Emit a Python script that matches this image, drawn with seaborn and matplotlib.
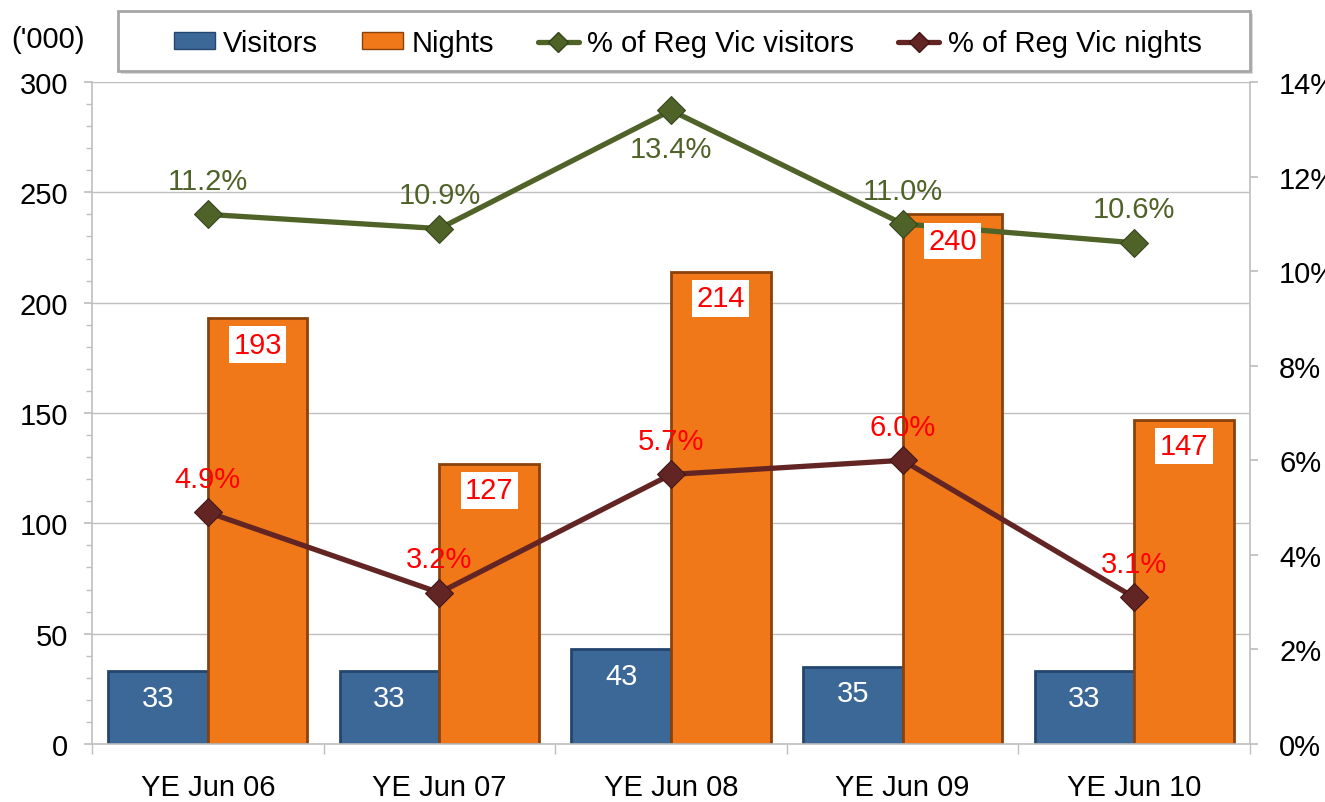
import numpy as np
import pandas as pd
import matplotlib
matplotlib.use('Agg')
import matplotlib.pyplot as plt
import seaborn as sns
from matplotlib.patches import Patch, Rectangle
from matplotlib.lines import Line2D
from matplotlib.ticker import MultipleLocator, FuncFormatter

# chart data
periods = ['YE Jun 06', 'YE Jun 07', 'YE Jun 08', 'YE Jun 09', 'YE Jun 10']
visitors = [33, 33, 43, 35, 33]
nights = [193, 127, 214, 240, 147]
pct_visitors = [11.2, 10.9, 13.4, 11.0, 10.6]
pct_nights = [4.9, 3.2, 5.7, 6.0, 3.1]

df = pd.DataFrame({
    'period': periods * 2,
    'series': ['Visitors'] * len(periods) + ['Nights'] * len(periods),
    'value': visitors + nights,
})

sns.set_theme(style='white')
plt.rcParams['font.family'] = ['Liberation Sans', 'DejaVu Sans']
plt.rcParams['text.color'] = 'black'
plt.rcParams['xtick.labelcolor'] = 'black'
plt.rcParams['ytick.labelcolor'] = 'black'

blue, blue_edge = '#3C6898', '#24466E'
orange, orange_edge = '#F07818', '#8A420C'
green, green_edge = '#4F6228', '#34421A'
maroon, maroon_edge = '#632523', '#401514'
grey = '#BFBFBF'
fs = 21

fig = plt.figure(figsize=(13.25, 8.03), dpi=100)
ax = fig.add_axes([92 / 1325, 1 - 745 / 803, (1250 - 92) / 1325, (745 - 83) / 803])

sns.barplot(data=df, x='period', y='value', hue='series',
            palette={'Visitors': blue, 'Nights': orange},
            width=0.86, saturation=1, legend=False, ax=ax, linewidth=2)
for cont, ec in zip(ax.containers, [blue_edge, orange_edge]):
    for bar in cont:
        bar.set_edgecolor(ec)

ax.set_xlim(-0.5, 4.5)
ax.set_ylim(0, 300)
ax.yaxis.set_major_locator(MultipleLocator(50))
ax.yaxis.set_minor_locator(MultipleLocator(10))
ax.set_xticks(range(len(periods)))
ax.set_xticklabels(periods)
ax.set_xticks(np.arange(-0.5, 5, 1), minor=True)
ax.set_xlabel('')
ax.set_ylabel('')
ax.grid(axis='y', color=grey, lw=1)
ax.set_axisbelow(True)
for s in ['top', 'right']:
    ax.spines[s].set_visible(False)
for s in ['left', 'bottom']:
    ax.spines[s].set_color(grey)
    ax.spines[s].set_linewidth(1.2)
ax.tick_params(axis='y', which='major', direction='out', length=6, color=grey, labelsize=fs, pad=11, left=True)
ax.tick_params(axis='y', which='minor', direction='out', length=4, color=grey, left=True)
ax.tick_params(axis='x', which='major', length=0, labelsize=fs, pad=21)
ax.tick_params(axis='x', which='minor', direction='out', length=7, color=grey, bottom=True)

# bar labels for visitors
for i, v in enumerate(visitors):
    ax.text(i - 0.215, v - 12, str(v), ha='center', va='center', color='white', fontsize=fs)

ax2 = ax.twinx()
sns.lineplot(x=np.arange(len(periods)), y=pct_visitors, ax=ax2, color=green, lw=3.8,
             marker='D', markersize=14, markeredgecolor=green_edge)
sns.lineplot(x=np.arange(len(periods)), y=pct_nights, ax=ax2, color=maroon, lw=3.8,
             marker='D', markersize=14, markeredgecolor=maroon_edge)
ax2.set_ylim(0, 14)
ax2.yaxis.set_major_locator(MultipleLocator(2))
ax2.yaxis.set_major_formatter(FuncFormatter(lambda v, p: f'{v:.0f}%'))
ax2.grid(False)
for s in ['top', 'left', 'bottom']:
    ax2.spines[s].set_visible(False)
ax2.spines['right'].set_color(grey)
ax2.spines['right'].set_linewidth(1.2)
ax2.tick_params(axis='y', direction='out', length=6, color=grey, labelsize=fs, pad=15, right=True)

# line labels
for i, v in enumerate(pct_visitors):
    off = -28 if v == max(pct_visitors) else 24
    ax2.annotate(f'{v:.1f}%', (i, v), xytext=(0, off), textcoords='offset points',
                 ha='center', va='center', color=green, fontsize=fs)
for i, v in enumerate(pct_nights):
    ax2.annotate(f'{v:.1f}%', (i, v), xytext=(0, 24), textcoords='offset points',
                 ha='center', va='center', color='red', fontsize=fs)

# nights labels in white boxes, above the lines
for i, v in enumerate(nights):
    ax2.text(i + 0.215, v - 12, str(v), transform=ax.transData, ha='center', va='center',
             color='red', fontsize=fs, zorder=10,
             bbox=dict(boxstyle='square,pad=0.15', facecolor='white', edgecolor='none'))

# legend box
fig.patches.append(Rectangle((121 / 1325, 1 - 75 / 803), 1132 / 1325, 60 / 803,
                             transform=fig.transFigure, facecolor='#D9D9D9', edgecolor='none', zorder=0))
fig.patches.append(Rectangle((118 / 1325, 1 - 72 / 803), 1132 / 1325, 60 / 803,
                             transform=fig.transFigure, facecolor='white', edgecolor='#A6A6A6',
                             lw=2, zorder=1))
handles = [
    Patch(facecolor=blue, edgecolor=blue_edge),
    Patch(facecolor=orange, edgecolor=orange_edge),
    Line2D([], [], color=green, lw=3.8, marker='D', markersize=10, markeredgecolor=green_edge),
    Line2D([], [], color=maroon, lw=3.8, marker='D', markersize=10, markeredgecolor=maroon_edge),
]
labels = ['Visitors', 'Nights', '% of Reg Vic visitors', '% of Reg Vic nights']
fig.legend(handles, labels, loc='center', bbox_to_anchor=(0.519, 1 - 44 / 803), ncol=4,
           frameon=False, fontsize=fs, handlelength=1.4, handleheight=0.5,
           handletextpad=0.3, columnspacing=1.5)

fig.text(48 / 1325, 1 - 40 / 803, "('000)", ha='center', va='center', fontsize=fs)

fig.savefig('out.png', dpi=100)
